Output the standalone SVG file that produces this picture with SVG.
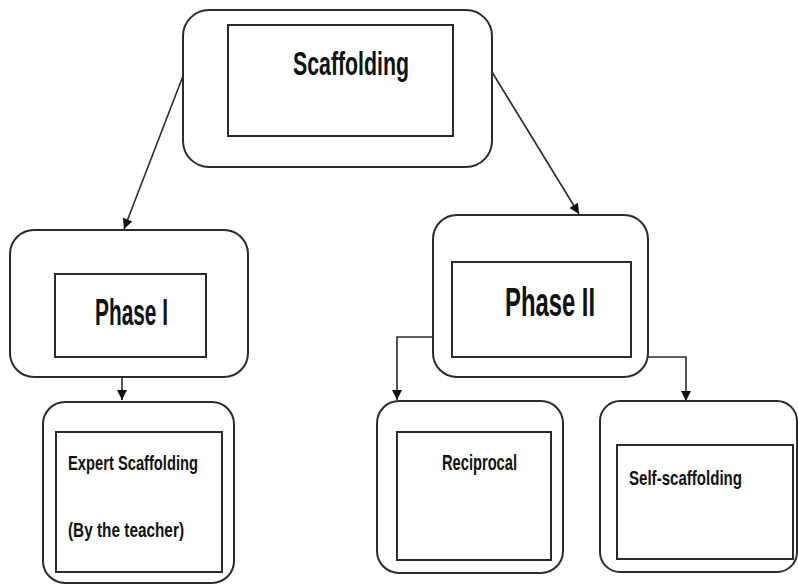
<svg xmlns="http://www.w3.org/2000/svg" width="798" height="585" viewBox="0 0 798 585">
  <style>
    .outer { fill: #ffffff; stroke: #2b2b2b; stroke-width: 2; }
    .inner { fill: #ffffff; stroke: #2b2b2b; stroke-width: 2; }
    .label { font-family: "Liberation Sans", Arial, sans-serif; font-weight: bold; fill: #111111; }
    .link { fill: none; stroke: #2b2b2b; stroke-width: 1.6; }
  </style>
  <defs>
    <marker id="arrow" viewBox="0 0 10 10" refX="10" refY="5" markerWidth="14" markerHeight="10" markerUnits="userSpaceOnUse" orient="auto">
      <path d="M0,0 L10,5 L0,10 z" fill="#111111"/>
    </marker>
  </defs>

  <rect width="798" height="585" fill="#ffffff"/>

  <!-- connectors -->
  <g id="connectors">
    <line class="link" x1="183" y1="76" x2="124" y2="229" marker-end="url(#arrow)"/>
    <line class="link" x1="492" y1="72" x2="579" y2="214" marker-end="url(#arrow)"/>
    <line class="link" x1="122" y1="377" x2="122" y2="400" marker-end="url(#arrow)"/>
    <polyline class="link" points="433,337 397,337 397,400" marker-end="url(#arrow)"/>
    <polyline class="link" points="648,357 686,357 686,401" marker-end="url(#arrow)"/>
  </g>

  <!-- root -->
  <g id="node-scaffolding">
    <rect class="outer" x="183" y="10" width="309" height="157" rx="26" ry="26"/>
    <rect class="inner" x="228" y="25" width="225" height="111"/>
    <text class="label" x="293" y="75" font-size="33" textLength="116" lengthAdjust="spacingAndGlyphs">Scaffolding</text>
  </g>

  <!-- phase one -->
  <g id="node-phase1">
    <rect class="outer" x="10" y="230" width="238" height="147" rx="24" ry="24"/>
    <rect class="inner" x="55" y="274" width="151" height="83"/>
    <text class="label" x="95" y="325" font-size="36" textLength="73" lengthAdjust="spacingAndGlyphs">Phase I</text>
  </g>

  <!-- phase two -->
  <g id="node-phase2">
    <rect class="outer" x="433" y="215" width="215" height="162" rx="24" ry="24"/>
    <rect class="inner" x="452" y="262" width="179" height="95"/>
    <text class="label" x="505" y="316" font-size="40" textLength="90" lengthAdjust="spacingAndGlyphs">Phase II</text>
  </g>

  <!-- expert scaffolding -->
  <g id="node-expert">
    <rect class="outer" x="43" y="402" width="191" height="181" rx="22" ry="22"/>
    <rect class="inner" x="56" y="432" width="166" height="140"/>
    <text class="label" x="68" y="470" font-size="21" textLength="130" lengthAdjust="spacingAndGlyphs">Expert Scaffolding</text>
    <text class="label" x="68" y="537" font-size="21" textLength="116" lengthAdjust="spacingAndGlyphs">(By the teacher)</text>
  </g>

  <!-- reciprocal -->
  <g id="node-reciprocal">
    <rect class="outer" x="377" y="401" width="186" height="172" rx="22" ry="22"/>
    <rect class="inner" x="397" y="432" width="154" height="128"/>
    <text class="label" x="442" y="470" font-size="22" textLength="75" lengthAdjust="spacingAndGlyphs">Reciprocal</text>
  </g>

  <!-- self-scaffolding -->
  <g id="node-self">
    <rect class="outer" x="600" y="401" width="197" height="171" rx="20" ry="20"/>
    <rect class="inner" x="617" y="445" width="176" height="114"/>
    <text class="label" x="629" y="485" font-size="21" textLength="113" lengthAdjust="spacingAndGlyphs">Self-scaffolding</text>
  </g>
</svg>
